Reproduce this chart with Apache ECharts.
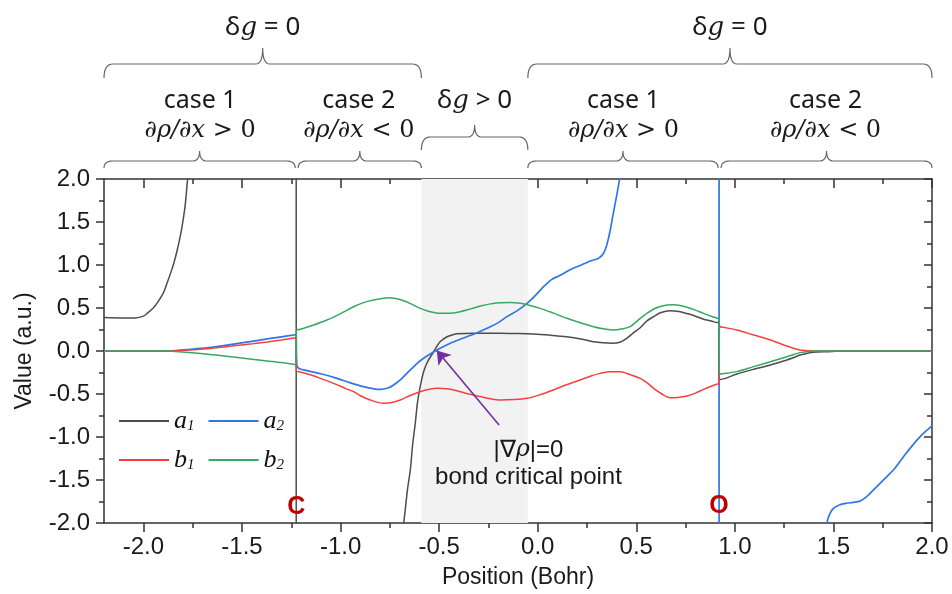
<!DOCTYPE html>
<html>
<head>
<meta charset="utf-8">
<script src="https://cdn.jsdelivr.net/npm/echarts@6/dist/echarts.min.js"></script>
<style>
  html, body { margin: 0; padding: 0; background: #fff; }
  #main { width: 952px; height: 594px; }
</style>
</head>
<body>
<div id="main"></div>
<script>
var xTicks = [-2, -1.5, -1, -0.5, 0, 0.5, 1, 1.5, 2];
var xMinorTicks = [-1.75, -1.25, -0.75, -0.25, 0.25, 0.75, 1.25, 1.75];
var atomC = -1.225, atomO = 0.92;
var bcpBand = [-0.59, -0.05];
var arrowFrom = [-0.196, -0.86], arrowTo = [-0.512, 0.005];

// a1 / a2 run off the plot at the nuclei, the +-6 points make the vertical jumps
var a1 = [[-2.2,0.39],[-2.1,0.385],[-2.04,0.385],[-2.0,0.405],[-1.98,0.44],[-1.95,0.5],[-1.93,0.56],[-1.9,0.67],[-1.88,0.79],[-1.86,0.92],[-1.846,1.02],[-1.83,1.16],[-1.81,1.37],[-1.795,1.58],[-1.787,1.72],[-1.776,2.0],[-1.76,2.4],[-1.74,2.9],[-1.225,6],[-1.225,-6],[-0.72,-2.6],[-0.68,-2.0],[-0.66,-1.6],[-0.646,-1.38],[-0.635,-1.1],[-0.621,-0.84],[-0.61,-0.6],[-0.596,-0.415],[-0.58,-0.25],[-0.562,-0.14],[-0.545,-0.07],[-0.528,-0.01],[-0.51,0.06],[-0.494,0.11],[-0.46,0.166],[-0.43,0.19],[-0.41,0.2],[-0.325,0.205],[-0.19,0.205],[-0.1,0.203],[-0.021,0.198],[0.06,0.185],[0.148,0.166],[0.22,0.14],[0.283,0.108],[0.33,0.095],[0.38,0.09],[0.42,0.105],[0.453,0.15],[0.49,0.22],[0.52,0.27],[0.554,0.35],[0.588,0.4],[0.622,0.445],[0.672,0.469],[0.715,0.46],[0.757,0.435],[0.8,0.405],[0.841,0.37],[0.88,0.35],[0.912,0.33],[0.92,0.33],[0.92,-0.33],[0.926,-0.33],[1.01,-0.267],[1.095,-0.213],[1.18,-0.163],[1.264,-0.105],[1.3,-0.075],[1.331,-0.047],[1.37,-0.025],[1.4,-0.015],[1.467,-0.008],[1.55,0],[2.0,0]];
var a2 = [[-2.2,0],[-1.88,0],[-1.8,0.012],[-1.71,0.03],[-1.62,0.055],[-1.542,0.081],[-1.46,0.108],[-1.373,0.14],[-1.3,0.165],[-1.238,0.186],[-1.228,0.19],[-1.225,0.17],[-1.222,-0.16],[-1.213,-0.2],[-1.187,-0.22],[-1.1,-0.265],[-1.018,-0.318],[-0.95,-0.37],[-0.883,-0.415],[-0.83,-0.44],[-0.798,-0.446],[-0.76,-0.43],[-0.731,-0.395],[-0.69,-0.32],[-0.646,-0.22],[-0.61,-0.14],[-0.579,-0.085],[-0.545,-0.035],[-0.511,0.012],[-0.475,0.055],[-0.443,0.09],[-0.4,0.13],[-0.359,0.166],[-0.31,0.21],[-0.257,0.264],[-0.2,0.33],[-0.156,0.4],[-0.1,0.475],[-0.054,0.554],[-0.01,0.65],[0.03,0.748],[0.07,0.83],[0.114,0.88],[0.16,0.94],[0.199,0.98],[0.25,1.03],[0.283,1.058],[0.31,1.08],[0.334,1.136],[0.35,1.23],[0.368,1.407],[0.385,1.62],[0.4,1.8],[0.415,2.0],[0.43,2.3],[0.45,2.8],[0.92,6],[0.92,-6],[1.44,-2.4],[1.467,-2.0],[1.48,-1.9],[1.5,-1.83],[1.53,-1.79],[1.568,-1.77],[1.6,-1.76],[1.636,-1.744],[1.67,-1.69],[1.703,-1.616],[1.74,-1.53],[1.771,-1.46],[1.81,-1.37],[1.855,-1.23],[1.9,-1.1],[1.94,-0.996],[1.97,-0.93],[2.0,-0.87]];
var b1 = [[-2.2,0],[-1.88,0],[-1.8,0.008],[-1.71,0.02],[-1.62,0.04],[-1.542,0.06],[-1.46,0.08],[-1.373,0.105],[-1.3,0.128],[-1.238,0.15],[-1.226,0.155],[-1.224,-0.23],[-1.204,-0.245],[-1.15,-0.28],[-1.103,-0.318],[-1.035,-0.376],[-0.97,-0.44],[-0.934,-0.473],[-0.9,-0.52],[-0.849,-0.57],[-0.782,-0.608],[-0.74,-0.6],[-0.697,-0.57],[-0.65,-0.52],[-0.596,-0.473],[-0.55,-0.445],[-0.511,-0.434],[-0.46,-0.44],[-0.41,-0.461],[-0.35,-0.5],[-0.291,-0.53],[-0.24,-0.555],[-0.19,-0.57],[-0.12,-0.565],[-0.054,-0.55],[0.01,-0.51],[0.08,-0.453],[0.15,-0.39],[0.216,-0.337],[0.27,-0.29],[0.317,-0.26],[0.37,-0.24],[0.419,-0.24],[0.47,-0.275],[0.52,-0.318],[0.555,-0.37],[0.588,-0.434],[0.63,-0.5],[0.672,-0.543],[0.71,-0.54],[0.757,-0.523],[0.8,-0.49],[0.841,-0.446],[0.88,-0.41],[0.912,-0.384],[0.92,-0.38],[0.922,0.29],[0.926,0.283],[1.01,0.244],[1.095,0.186],[1.18,0.128],[1.264,0.058],[1.3,0.03],[1.331,0.012],[1.4,0.0],[2.0,0]];
var b2 = [[-2.2,0],[-1.88,0],[-1.8,-0.012],[-1.71,-0.03],[-1.62,-0.05],[-1.542,-0.07],[-1.46,-0.093],[-1.373,-0.116],[-1.3,-0.135],[-1.238,-0.155],[-1.226,-0.16],[-1.224,0.236],[-1.204,0.252],[-1.14,0.3],[-1.069,0.36],[-1.0,0.435],[-0.934,0.515],[-0.88,0.565],[-0.832,0.593],[-0.756,0.62],[-0.72,0.61],[-0.68,0.585],[-0.64,0.545],[-0.596,0.496],[-0.55,0.46],[-0.494,0.438],[-0.44,0.44],[-0.393,0.457],[-0.34,0.49],[-0.291,0.523],[-0.24,0.548],[-0.19,0.562],[-0.14,0.563],[-0.089,0.554],[-0.04,0.53],[0.013,0.496],[0.08,0.44],[0.148,0.38],[0.22,0.325],[0.283,0.283],[0.34,0.255],[0.385,0.244],[0.43,0.258],[0.469,0.283],[0.51,0.36],[0.554,0.438],[0.6,0.5],[0.656,0.535],[0.69,0.537],[0.723,0.528],[0.757,0.508],[0.8,0.475],[0.841,0.438],[0.88,0.405],[0.912,0.38],[0.92,0.375],[0.922,-0.27],[0.926,-0.267],[1.01,-0.24],[1.095,-0.182],[1.18,-0.124],[1.264,-0.066],[1.3,-0.04],[1.331,-0.019],[1.4,0],[2.0,0]];

var colors = { a1: '#4d4d4d', a2: '#2f78e4', b1: '#f2413f', b2: '#36a862' };
var axisColor = '#333';
var sans = 'Liberation Sans, Arial, sans-serif';
var serif = 'DejaVu Serif, serif';

var chart = echarts.init(document.getElementById('main'));

function fmt(v) { return v.toFixed(1); }

function lineSeries(name, data, extra) {
  var s = {
    name: name, type: 'line', data: data, showSymbol: false, symbol: 'none',
    clip: true, animation: false, smooth: 0.3,
    lineStyle: { color: colors[name], width: 1.5 },
    itemStyle: { color: colors[name] }
  };
  for (var k in extra) s[k] = extra[k];
  return s;
}

var legendRich = {
  i: { fontFamily: 'Liberation Serif', fontStyle: 'italic', fontSize: 26, color: '#111' },
  s: { fontFamily: 'Liberation Serif', fontStyle: 'italic', fontSize: 15, color: '#111', verticalAlign: 'bottom' }
};
function legendFmt(name) { return '{i|' + name[0] + '}{s|' + name[1] + '}'; }

var tickStyle = { color: axisColor, width: 1.5 };

var option = {
  backgroundColor: '#fff',
  animation: false,
  grid: { left: 104, right: 20, top: 179, bottom: 71 },
  legend: [
    { data: ['a1', 'a2'], left: 114, top: 403, icon: 'rect', itemWidth: 50, itemHeight: 2, itemGap: 14,
      formatter: legendFmt, textStyle: { rich: legendRich } },
    { data: ['b1', 'b2'], left: 114, top: 442, icon: 'rect', itemWidth: 50, itemHeight: 2, itemGap: 14,
      formatter: legendFmt, textStyle: { rich: legendRich } }
  ],
  xAxis: [
    { type: 'value', min: -2.2, max: 2.0, position: 'bottom',
      name: 'Position (Bohr)', nameLocation: 'middle', nameGap: 43,
      nameTextStyle: { fontFamily: sans, fontSize: 23, color: '#1a1a1a' },
      axisLine: { onZero: false, lineStyle: tickStyle },
      axisTick: { customValues: xTicks, length: 9, lineStyle: tickStyle },
      axisLabel: { customValues: xTicks, formatter: fmt, fontFamily: sans, fontSize: 24, color: '#1a1a1a', margin: 12 },
      splitLine: { show: false } },
    { type: 'value', min: -2.2, max: 2.0, position: 'bottom',
      axisLine: { show: false, onZero: false },
      axisTick: { customValues: xMinorTicks, length: 5, lineStyle: tickStyle },
      axisLabel: { show: false }, splitLine: { show: false } },
    { type: 'value', min: -2.2, max: 2.0, position: 'top',
      axisLine: { onZero: false, lineStyle: tickStyle },
      axisTick: { customValues: xTicks, inside: true, length: 9, lineStyle: tickStyle },
      axisLabel: { show: false }, splitLine: { show: false } },
    { type: 'value', min: -2.2, max: 2.0, position: 'top',
      axisLine: { show: false, onZero: false },
      axisTick: { customValues: xMinorTicks, inside: true, length: 5, lineStyle: tickStyle },
      axisLabel: { show: false }, splitLine: { show: false } }
  ],
  yAxis: [
    { type: 'value', min: -2, max: 2, interval: 0.5, position: 'left',
      name: 'Value (a.u.)', nameLocation: 'middle', nameGap: 68,
      nameTextStyle: { fontFamily: sans, fontSize: 23, color: '#1a1a1a' },
      axisLine: { show: true, onZero: false, lineStyle: tickStyle },
      axisTick: { length: 8, lineStyle: tickStyle },
      minorTick: { show: true, splitNumber: 2, length: 5, lineStyle: tickStyle },
      axisLabel: { formatter: fmt, fontFamily: sans, fontSize: 24, color: '#1a1a1a', margin: 14 },
      splitLine: { show: false } },
    { type: 'value', min: -2, max: 2, interval: 0.5, position: 'right',
      axisLine: { show: true, onZero: false, lineStyle: tickStyle },
      axisTick: { inside: true, length: 8, lineStyle: tickStyle },
      minorTick: { show: true, splitNumber: 2, length: 5, lineStyle: tickStyle },
      axisLabel: { show: false }, splitLine: { show: false } }
  ],
  series: [
    lineSeries('a1', a1, {
      markArea: { silent: true, itemStyle: { color: '#f2f2f2' },
        data: [[{ xAxis: bcpBand[0] }, { xAxis: bcpBand[1] }]] }
    }),
    lineSeries('a2', a2, { lineStyle: { color: colors.a2, width: 1.7 } }),
    lineSeries('b1', b1, {}),
    lineSeries('b2', b2, {
      markLine: { silent: true, animation: false, symbolSize: 13,
        label: { show: false },
        lineStyle: { color: '#7030a0', width: 1.6, type: 'solid' },
        data: [[{ coord: arrowFrom, symbol: 'none' }, { coord: arrowTo, symbol: 'arrow' }]] }
    })
  ]
};
chart.setOption(option);

// annotations above the plot, placed from the axis scale
var px = function (v) { return chart.convertToPixel({ xAxisIndex: 0 }, v); };
var py = function (v) { return chart.convertToPixel({ yAxisIndex: 0 }, v); };

// curly brace as a polyline built from quadratic corners
function quad(pts, p0, p1, p2) {
  for (var i = 1; i <= 8; i++) {
    var t = i / 8, u = 1 - t;
    pts.push([u * u * p0[0] + 2 * u * t * p1[0] + t * t * p2[0],
              u * u * p0[1] + 2 * u * t * p1[1] + t * t * p2[1]]);
  }
}
function bracePath(x1, x2, yEnd, yLine, yTip) {
  var xm = (x1 + x2) / 2, r = 9, t = 7;
  var pts = [[x1, yEnd]];
  quad(pts, [x1, yEnd], [x1, yLine], [x1 + r, yLine]);
  pts.push([xm - t, yLine]);
  quad(pts, [xm - t, yLine], [xm, yLine], [xm, yTip]);
  quad(pts, [xm, yTip], [xm, yLine], [xm + t, yLine]);
  pts.push([x2 - r, yLine]);
  quad(pts, [x2 - r, yLine], [x2, yLine], [x2, yEnd]);
  return { type: 'polyline', silent: true, shape: { points: pts },
    style: { fill: null, stroke: '#666', lineWidth: 1.2 } };
}
function label(x, y, text, rich, extra) {
  var st = { text: text, x: x, y: y, align: 'center', verticalAlign: 'middle',
    fill: '#1a1a1a', fontFamily: 'Noto Sans', fontSize: 25, rich: rich || {} };
  for (var k in extra) st[k] = extra[k];
  return { type: 'text', silent: true, z: 100, style: st };
}

var xL = px(-2.2), xC = px(atomC), xS1 = px(bcpBand[0]), xS2 = px(bcpBand[1]), xO = px(atomO), xR = px(2.0);
var dgRich = {
  d: { fontFamily: 'Noto Sans', fontSize: 26, fill: '#1a1a1a' },
  g: { fontFamily: serif, fontStyle: 'italic', fontSize: 26, fill: '#1a1a1a' }
};
var mathRich = {
  m: { fontFamily: serif, fontStyle: 'italic', fontSize: 24, fill: '#1a1a1a' },
  o: { fontFamily: serif, fontSize: 24, fill: '#1a1a1a' }
};
var gradRich = {
  d: { fontFamily: sans, fontSize: 24, fill: '#1a1a1a' },
  r: { fontFamily: serif, fontStyle: 'italic', fontSize: 24, fill: '#1a1a1a' }
};

var graphics = [
  bracePath(xL, xS1, 78, 64, 48),
  bracePath(xS2, xR, 78, 64, 48),
  bracePath(xL, xC - 1, 168, 161, 151),
  bracePath(xC + 2, xS1, 168, 161, 151),
  bracePath(xS2, xO - 1, 168, 161, 151),
  bracePath(xO + 2, xR, 168, 161, 151),
  bracePath(xS1, xS2, 150, 137, 125),
  label((xL + xS1) / 2, 28, '{d|δ}{g|g}{d| = 0}', dgRich),
  label((xS2 + xR) / 2, 28, '{d|δ}{g|g}{d| = 0}', dgRich),
  label((xS1 + xS2) / 2, 101, '{d|δ}{g|g}{d| > 0}', dgRich),
  label((xL + xC) / 2, 101, 'case 1'),
  label((xC + xS1) / 2, 101, 'case 2'),
  label((xS2 + xO) / 2, 101, 'case 1'),
  label((xO + xR) / 2, 101, 'case 2'),
  label((xL + xC) / 2, 131, '{m|∂ρ/∂x}{o| > 0}', mathRich),
  label((xC + xS1) / 2, 131, '{m|∂ρ/∂x}{o| < 0}', mathRich),
  label((xS2 + xO) / 2, 131, '{m|∂ρ/∂x}{o| > 0}', mathRich),
  label((xO + xR) / 2, 131, '{m|∂ρ/∂x}{o| < 0}', mathRich),
  label(px(-0.047), py(-1.15), '{d||∇}{r|ρ}{d||=0}', gradRich),
  label(px(-0.047), py(-1.475), 'bond critical point', null, { fontFamily: sans, fontSize: 24 }),
  label(xC, py(-1.81), 'C', null, { fontFamily: sans, fontSize: 25, fontWeight: 'bold', fill: '#c00000' }),
  label(xO, py(-1.80), 'O', null, { fontFamily: sans, fontSize: 25, fontWeight: 'bold', fill: '#c00000' })
];
chart.setOption({ graphic: graphics });
</script>
</body>
</html>
